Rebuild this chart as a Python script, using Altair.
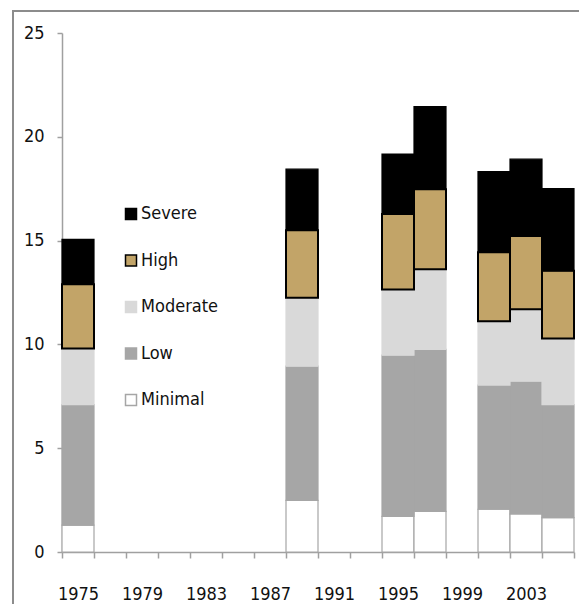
import altair as alt
import pandas as pd

years_all = ["1975", "1977", "1979", "1981", "1983", "1985", "1987", "1989",
             "1991", "1993", "1995", "1997", "1999", "2001", "2003", "2005"]
label_years = ["1975", "1979", "1983", "1987", "1991", "1995", "1999", "2003"]
bar_years = ["1975", "1989", "1995", "1997", "2001", "2003", "2005"]

minimal = [1.29, 2.49, 1.72, 1.96, 2.06, 1.83, 1.66]
low = [5.81, 6.46, 7.76, 7.80, 5.98, 6.40, 5.44]
moderate = [2.70, 3.30, 3.17, 3.86, 3.08, 3.46, 3.19]
high = [3.10, 3.25, 3.63, 3.85, 3.32, 3.53, 3.26]
severe = [2.16, 2.94, 2.89, 3.99, 3.88, 3.70, 3.95]

levels = ["Severe", "High", "Moderate", "Low", "Minimal"]
fills = ["#000000", "#c2a468", "#d9d9d9", "#a6a6a6", "#ffffff"]
strokes = ["#000000", "#000000", "#d9d9d9", "#a6a6a6", "#a6a6a6"]

series = {"Minimal": minimal, "Low": low, "Moderate": moderate,
          "High": high, "Severe": severe}
stack_rank = {"Minimal": 0, "Low": 1, "Moderate": 2, "High": 3, "Severe": 4}

rows = []
for lvl, vals in series.items():
    for yr, v in zip(bar_years, vals):
        rows.append({"year": yr, "level": lvl, "value": v, "rank": stack_rank[lvl]})
df = pd.DataFrame(rows)

FONT = "Liberation Sans Narrow, DejaVu Sans Condensed, sans-serif"
AXIS_GREY = "#a0a0a0"

legend = alt.Legend(
    title=None, orient="none", legendX=60, legendY=172,
    symbolType="square", symbolSize=121, symbolStrokeWidth=1.5,
    labelFontSize=18, labelFont=FONT, labelColor="#111111",
    rowPadding=28.5, labelOffset=1, padding=0,
)

label_list = "[" + ",".join("'" + y + "'" for y in label_years) + "]"

bars = alt.Chart(df).mark_bar(strokeWidth=1.5).encode(
    x=alt.X("year:O", title=None,
            scale=alt.Scale(domain=years_all, paddingInner=0, paddingOuter=0),
            axis=alt.Axis(tickBand="extent", tickSize=6, labelAngle=0,
                          labelPadding=27, labelFontSize=18, labelFont=FONT,
                          labelColor="#111111", domainColor=AXIS_GREY,
                          tickColor=AXIS_GREY, domainWidth=1.5, tickWidth=1.5,
                          labelExpr="indexof(" + label_list + ", datum.label) >= 0 ? datum.label : ''")),
    y=alt.Y("value:Q", stack="zero", title=None,
            scale=alt.Scale(domain=[0, 25], nice=False),
            axis=alt.Axis(values=[0, 5, 10, 15, 20, 25], tickSize=5,
                          labelPadding=13, labelFontSize=18, labelFont=FONT,
                          labelColor="#111111", domainColor=AXIS_GREY,
                          tickColor=AXIS_GREY, domainWidth=1.5, tickWidth=1.5,
                          grid=False)),
    color=alt.Color("level:N", scale=alt.Scale(domain=levels, range=fills), legend=legend),
    stroke=alt.Stroke("level:N", scale=alt.Scale(domain=levels, range=strokes), legend=legend),
    strokeWidth=alt.condition(alt.datum.level == "High", alt.value(2), alt.value(1.2)),
    order=alt.Order("rank:Q", sort="ascending"),
)

frame_src = pd.DataFrame({"a": [0]})
frame_left = alt.Chart(frame_src).mark_rule(color="#8c8c8c", strokeWidth=2, clip=False).encode(
    x=alt.value(-49), y=alt.value(-22), y2=alt.value(600))
frame_top = alt.Chart(frame_src).mark_rule(color="#8c8c8c", strokeWidth=2, clip=False).encode(
    y=alt.value(-22), x=alt.value(-50), x2=alt.value(560))

chart = alt.layer(frame_left, frame_top, bars).properties(
    width=512, height=519,
    padding={"left": 54, "top": 25, "right": 5, "bottom": 52},
    autosize=alt.AutoSizeParams(type="none"),
).configure_view(stroke=None).configure_axis(grid=False)

chart.save("out.html", embed_options={"renderer": "svg", "actions": False})
